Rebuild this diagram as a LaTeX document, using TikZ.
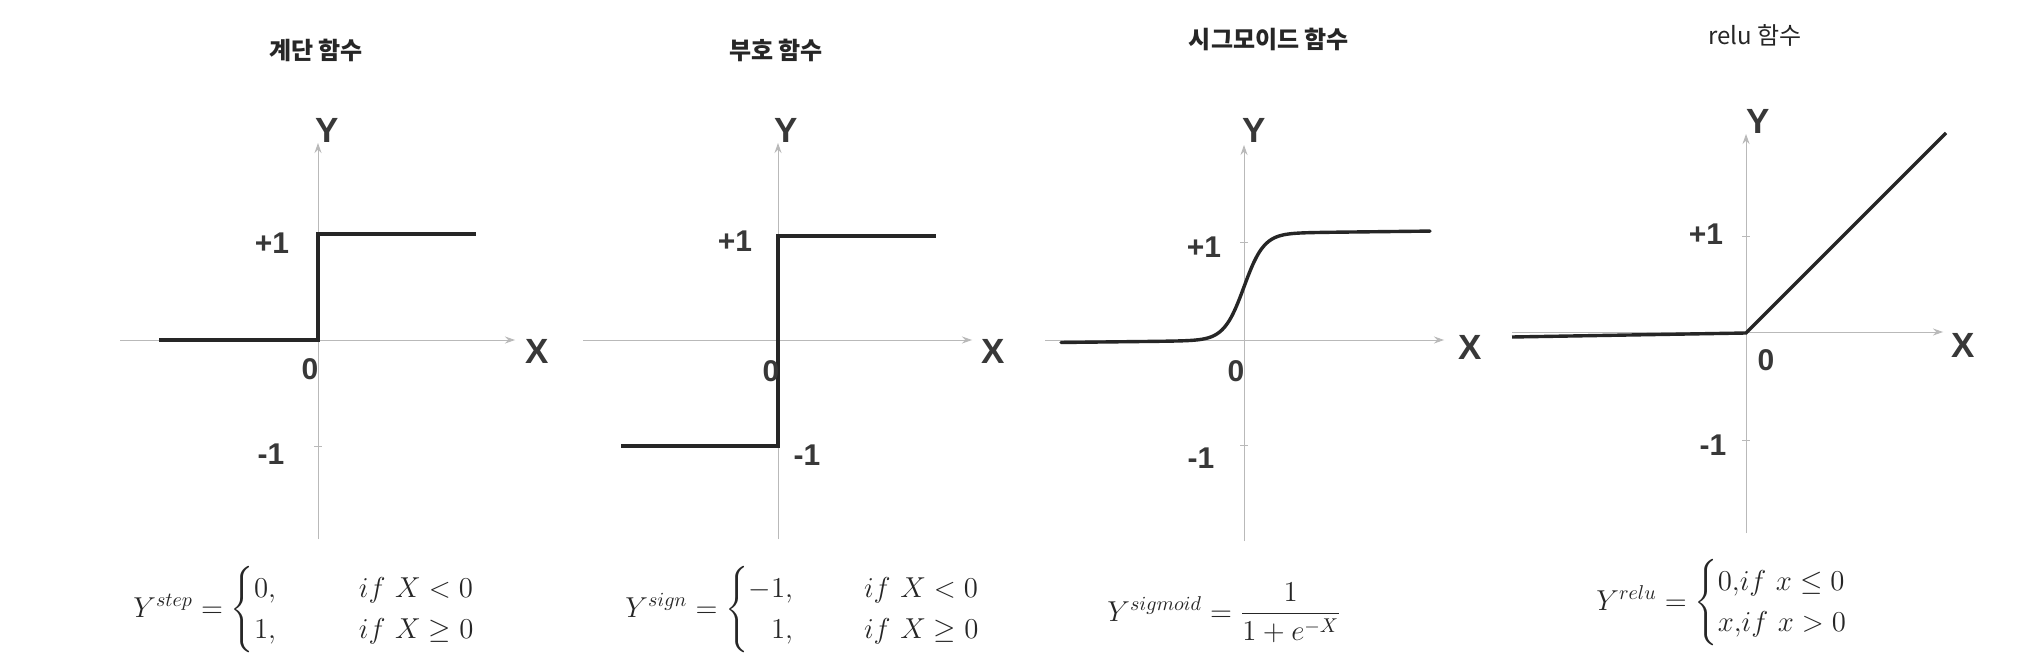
\documentclass[tikz,border=0pt]{standalone}
\usepackage{amsmath}
\usepackage{fontspec}
\newfontfamily\arial{Liberation Sans}
\newfontfamily\krfont{Noto Sans CJK KR}
\usetikzlibrary{arrows.meta}
\begin{document}
\begin{tikzpicture}[x=0.5pt,y=-0.5pt,
  axis/.style={draw=gray!55, line width=0.45pt, -{Stealth[length=5pt,width=3.5pt]}},
  curve/.style={draw=black!85, line width=1.7pt, line join=miter},
  tickm/.style={draw=gray!55, line width=0.45pt},
  lbl/.style={font=\arial\bfseries\fontsize{15}{15}\selectfont, text=black!78, inner sep=0pt},
  axl/.style={font=\arial\bfseries\fontsize{17.5}{17.5}\selectfont, text=black!78, inner sep=0pt},
  ttlb/.style={font=\krfont\bfseries\fontsize{12}{12}\selectfont, text=black!85, inner sep=0pt},
  ttl/.style={font=\krfont\fontsize{12}{12}\selectfont, text=black!85, inner sep=0pt},
  eqn/.style={font=\fontsize{14.8}{17}\selectfont, text=black!85, inner sep=0pt, anchor=west}]
\fill[white] (0,0) rectangle (2033,668);
\useasboundingbox (0,0) rectangle (2033,668);

% ---------- Panel 1: step ----------
\node[ttlb] (t1) at (316,50) {계단 함수};
\coordinate (o1) at (318,340);
\coordinate (y1b) at (318,539); \coordinate (y1t) at (318,143);
\coordinate (x1l) at (120,340); \coordinate (x1r) at (515,340);
\draw[axis] (y1b) -- (y1t);
\draw[axis] (x1l) -- (x1r);
\coordinate (m1a) at (314,446); \coordinate (m1b) at (322,446);
\draw[tickm] (m1a) -- (m1b);
\coordinate (s1a) at (159,340); \coordinate (s1c) at (476,234);
\draw[curve] (s1a) -- (o1) |- (s1c);
\node[axl] (Y1) at (327,130) {Y};
\node[axl] (X1) at (537,351) {X};
\node[lbl] (p1) at (272,243) {+1};
\node[lbl] (z1) at (310,369) {0};
\node[lbl] (n1) at (271,454) {-1};
\node[eqn] (e1) at (133,610) {$Y^{step} = \begin{cases} 0, & \hspace{1.8em} if\ X<0 \\ 1, & \hspace{1.8em} if\ X\ge 0\end{cases}$};

% ---------- Panel 2: sign ----------
\node[ttlb] (t2) at (776,50) {부호 함수};
\coordinate (o2) at (778,340);
\coordinate (y2b) at (778,539); \coordinate (y2t) at (778,143);
\coordinate (x2l) at (583,340); \coordinate (x2r) at (972,340);
\draw[axis] (y2b) -- (y2t);
\draw[axis] (x2l) -- (x2r);
\coordinate (s2a) at (621,446); \coordinate (s2b) at (778,446); \coordinate (s2c) at (936,236);
\draw[curve] (s2a) -- (s2b) |- (s2c);
\node[axl] (Y2) at (786,130) {Y};
\node[axl] (X2) at (993,351) {X};
\node[lbl] (p2) at (735,241) {+1};
\node[lbl] (z2) at (771,371) {0};
\node[lbl] (n2) at (807,455) {-1};
\node[eqn] (e2) at (625,610) {$Y^{sign} = \begin{cases} -1, & \hspace{1.4em} if\ X<0 \\ \phantom{-}1, & \hspace{1.4em} if\ X\ge 0\end{cases}$};

% ---------- Panel 3: sigmoid ----------
\node[ttlb] (t3) at (1269,39) {시그모이드 함수};
\coordinate (o3) at (1244,340);
\coordinate (y3b) at (1244,541); \coordinate (y3t) at (1244,145);
\coordinate (x3l) at (1045,340); \coordinate (x3r) at (1444,340);
\draw[axis] (y3b) -- (y3t);
\draw[axis] (x3l) -- (x3r);
\coordinate (m3a) at (1240,242); \coordinate (m3b) at (1248,242);
\coordinate (m3c) at (1240,445); \coordinate (m3d) at (1248,445);
\draw[tickm] (m3a) -- (m3b) (m3c) -- (m3d);
\draw[curve, line cap=round] plot[domain=-183:186, samples=150, smooth]
  ({1244+\x}, {342.5 - 107/(1+exp(min(9,-0.1*(\x)))) - 0.012*(\x+183)});
\node[axl] (Y3) at (1254,130) {Y};
\node[axl] (X3) at (1470,347) {X};
\node[lbl] (p3) at (1204,247) {+1};
\node[lbl] (z3) at (1236,371) {0};
\node[lbl] (n3) at (1201,458) {-1};
\node[eqn] (e3) at (1107,613) {$Y^{sigmoid} = \dfrac{1}{1+e^{-X}}$};

% ---------- Panel 4: relu ----------
\node[ttl] (t4) at (1755,35) {relu 함수};
\coordinate (o4) at (1746,333);
\coordinate (y4b) at (1746,533); \coordinate (y4t) at (1746,134);
\coordinate (x4l) at (1512,332); \coordinate (x4r) at (1943,332);
\draw[axis] (y4b) -- (y4t);
\draw[axis] (x4l) -- (x4r);
\coordinate (m4a) at (1742,236); \coordinate (m4b) at (1750,236);
\coordinate (m4c) at (1742,440); \coordinate (m4d) at (1750,440);
\draw[tickm] (m4a) -- (m4b) (m4c) -- (m4d);
\coordinate (r4a) at (1512,337); \coordinate (r4c) at (1946,133);
\draw[curve] (r4a) -- (o4) -- (r4c);
\node[axl] (Y4) at (1758,121) {Y};
\node[axl] (X4) at (1963,345) {X};
\node[lbl] (p4) at (1706,234) {+1};
\node[lbl] (z4) at (1766,360) {0};
\node[lbl] (n4) at (1713,445) {-1};
\node[eqn] (e4) at (1596,603) {$Y^{relu} = \begin{cases} 0,\!if\ x\le 0 \\ x,\!if\ x>0\end{cases}$};
\end{tikzpicture}
\end{document}
